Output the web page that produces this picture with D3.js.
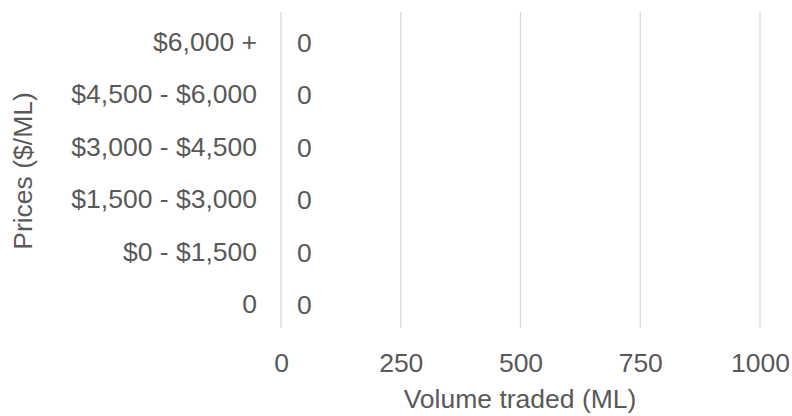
<!DOCTYPE html>
<html>
<head>
<meta charset="utf-8">
<script src="https://cdn.jsdelivr.net/npm/d3@7"></script>
<style>
  body { margin: 0; background: #fff; }
  svg text { font-family: Arial, "Liberation Sans", sans-serif !important; fill: #595959; }
</style>
</head>
<body>
<div id="chart"></div>
<script>
const categories = ["$6,000 +", "$4,500 - $6,000", "$3,000 - $4,500", "$1,500 - $3,000", "$0 - $1,500", "0"];
const volumes = [0, 0, 0, 0, 0, 0];
const xTicks = [0, 250, 500, 750, 1000];

const W = 792, H = 416;
const m = { top: 12, right: 32, bottom: 88, left: 281 };
const ih = H - m.top - m.bottom;
const FS = 26.5;

const svg = d3.select("#chart").append("svg").attr("width", W).attr("height", H);
const g = svg.append("g").attr("transform", `translate(${m.left},${m.top})`);

const x = d3.scaleLinear().domain([0, 1000]).range([0, 479]);
const y = d3.scaleBand().domain(categories).range([4, ih + 3]);

// gridlines
g.selectAll(".grid").data(xTicks).enter().append("line")
    .attr("x1", d => x(d)).attr("x2", d => x(d))
    .attr("y1", 0).attr("y2", ih)
    .attr("stroke", "#d9d9d9").attr("stroke-width", 1.3);

// bars (all zero)
g.selectAll(".bar").data(categories).enter().append("rect")
    .attr("x", x(0))
    .attr("y", d => y(d) + y.bandwidth() * 0.2)
    .attr("width", (d, i) => x(volumes[i]) - x(0))
    .attr("height", y.bandwidth() * 0.6)
    .attr("fill", "#4472c4");

// value labels
g.selectAll(".val").data(categories).enter().append("text")
    .attr("x", (d, i) => x(volumes[i]) + 16)
    .attr("y", d => y(d) + y.bandwidth() / 2)
    .attr("dy", "0.35em")
    .attr("font-size", FS)
    .text((d, i) => volumes[i]);

// y category labels
const yAxis = g.append("g").call(d3.axisLeft(y).tickSize(0).tickPadding(24));
yAxis.select(".domain").remove();
yAxis.selectAll("text").attr("font-size", FS);

// x axis
const xAxis = g.append("g").attr("transform", `translate(0,${ih})`)
    .call(d3.axisBottom(x).tickValues(xTicks).tickSize(0).tickPadding(25).tickFormat(d3.format("d")));
xAxis.select(".domain").remove();
xAxis.selectAll("text").attr("font-size", FS);

// axis titles
svg.append("text")
    .attr("x", 520).attr("y", 408)
    .attr("text-anchor", "middle").attr("font-size", FS)
    .text("Volume traded (ML)");

svg.append("text")
    .attr("transform", "translate(32,171) rotate(-90)")
    .attr("text-anchor", "middle").attr("font-size", FS)
    .text("Prices ($/ML)");
</script>
</body>
</html>
